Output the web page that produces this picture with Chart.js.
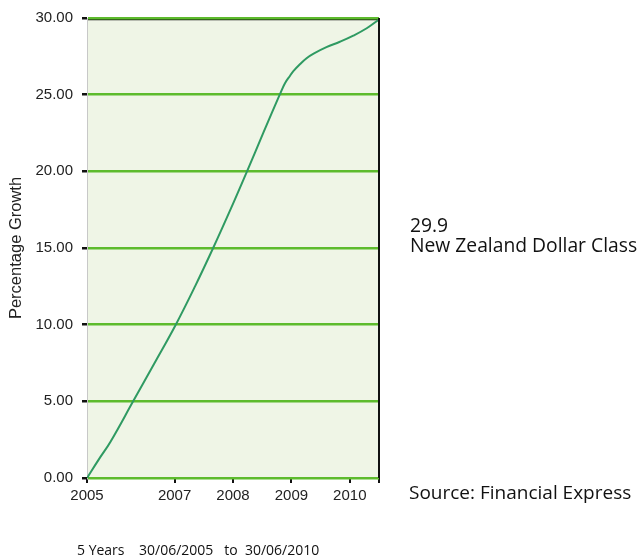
<!DOCTYPE html>
<html>
<head>
<meta charset="utf-8">
<script src="https://cdn.jsdelivr.net/npm/chart.js@4.4.1/dist/chart.umd.min.js"></script>
<style>
  html, body { margin: 0; padding: 0; background: #ffffff; }
  #wrap { width: 641px; height: 557px; position: relative; }
</style>
</head>
<body>
<div id="wrap"><canvas id="c"></canvas></div>
<script>
// ---- data (decimal year, percentage growth) ----
const dateYears = [2005.50, 2005.70, 2005.90, 2006.29, 2006.65, 2007.02, 2007.35, 2007.66, 2007.95, 2008.24,
                   2008.52, 2008.80, 2008.89, 2008.98, 2009.03, 2009.15, 2009.26, 2009.38, 2009.60, 2009.83,
                   2010.06, 2010.29, 2010.50];
const growthValues = [0.00, 1.20, 2.35, 5.00, 7.45, 10.00, 12.50, 15.00, 17.45, 20.00,
                      22.52, 25.00, 25.75, 26.25, 26.52, 27.00, 27.38, 27.68, 28.10, 28.45,
                      28.85, 29.33, 29.90];
const xTickValues = [2005.5, 2007, 2008, 2009, 2010, 2010.5];
const xTickLabels = ['2005', '2007', '2008', '2009', '2010', ''];
const yTickValues = [0, 5, 10, 15, 20, 25, 30];
const seriesName = 'New Zealand Dollar Class';
const yAxisTitle = 'Percentage Growth';
const sourceText = 'Source: Financial Express';
const periodText = '5 Years    30/06/2005   to  30/06/2010';

const points = dateYears.map((x, i) => ({ x: x, y: growthValues[i] }));

const GRID_GREEN = '#5dbb2d';

const framePlugin = {
  id: 'frame',
  beforeDraw(chart) {
    const { ctx, chartArea: a } = chart;
    ctx.save();
    ctx.fillStyle = '#eff5e6';
    ctx.fillRect(a.left, a.top, a.right - a.left, a.bottom - a.top);
    ctx.strokeStyle = '#111';
    ctx.lineWidth = 1.5;
    ctx.beginPath();
    ctx.moveTo(a.left, a.top + 1.5);
    ctx.lineTo(a.right, a.top + 1.5);
    ctx.stroke();
    ctx.restore();
  },
  afterDraw(chart) {
    const { ctx, chartArea: a } = chart;
    ctx.save();
    ctx.strokeStyle = '#111';
    ctx.lineWidth = 2;
    ctx.beginPath();
    ctx.moveTo(a.right, a.top);
    ctx.lineTo(a.right, a.bottom);
    ctx.stroke();
    ctx.fillStyle = '#111';
    ctx.textBaseline = 'alphabetic';
    ctx.textAlign = 'left';
    ctx.font = '19.3px "Open Sans"';
    ctx.fillText(growthValues[growthValues.length - 1].toFixed(1), 410, 232);
    ctx.fillText(seriesName, 410, 252);
    ctx.font = '19px "Open Sans"';
    ctx.fillText(sourceText, 409, 499);
    ctx.font = '14px "Open Sans"';
    ctx.fillText(periodText, 77, 555);
    ctx.restore();
  }
};

new Chart(document.getElementById('c'), {
  type: 'line',
  data: {
    datasets: [{
      label: seriesName,
      data: points,
      borderColor: '#2f9a62',
      borderWidth: 2,
      pointRadius: 0,
      tension: 0.4,
      fill: false
    }]
  },
  options: {
    responsive: true,
    maintainAspectRatio: false,
    animation: false,
    devicePixelRatio: 1,
    layout: { padding: { left: 0, right: 262, top: 17, bottom: 0 } },
    plugins: { legend: { display: false }, tooltip: { enabled: false } },
    scales: {
      x: {
        type: 'linear',
        min: 2005.5,
        max: 2010.5,
        afterBuildTicks(scale) { scale.ticks = xTickValues.map(v => ({ value: v })); },
        afterFit(scale) { scale.height = 79; },
        ticks: {
          autoSkip: false,
          maxRotation: 0,
          padding: 4,
          color: '#222',
          font: { family: '"Liberation Sans", Arial, sans-serif', size: 15 },
          callback(value, index) { return xTickLabels[index]; }
        },
        grid: { drawOnChartArea: false, tickColor: '#111', tickLength: 5, lineWidth: 2 },
        border: { display: false }
      },
      y: {
        min: 0,
        max: 30,
        afterBuildTicks(scale) { scale.ticks = yTickValues.map(v => ({ value: v })); },
        afterFit(scale) { scale.width = 87; },
        ticks: {
          padding: 9,
          color: '#222',
          font: { family: '"Liberation Sans", Arial, sans-serif', size: 15 },
          callback(value) { return Number(value).toFixed(2); }
        },
        grid: { color: GRID_GREEN, lineWidth: 2.5, tickColor: '#111', tickLength: 5 },
        border: { display: true, color: '#c8c8c8', width: 1 },
        title: {
          display: true,
          text: yAxisTitle,
          color: '#222',
          font: { family: '"Liberation Sans", Arial, sans-serif', size: 16.5 },
          padding: { top: 7, bottom: 0 }
        }
      }
    }
  },
  plugins: [framePlugin]
});
</script>
</body>
</html>
